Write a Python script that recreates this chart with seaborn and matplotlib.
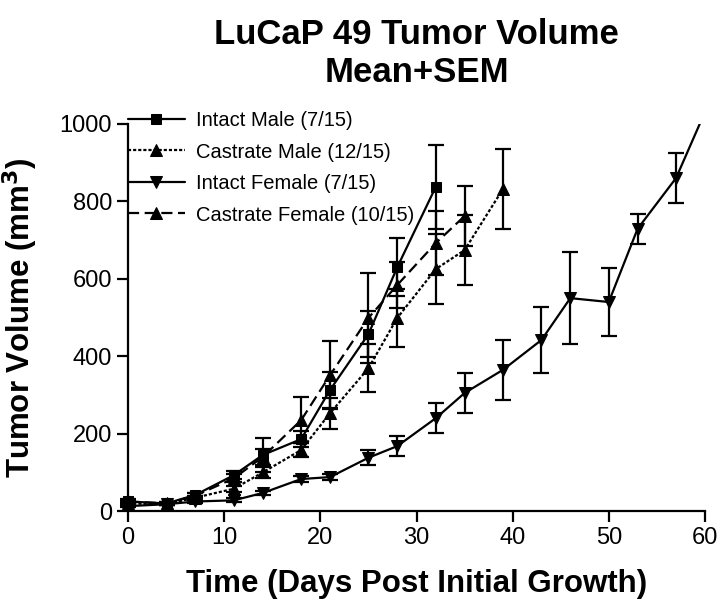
import matplotlib
matplotlib.use("Agg")
import matplotlib.pyplot as plt
import numpy as np
import pandas as pd
import seaborn as sns

# values (days, mean volume, SEM)
im_days = [0, 4, 7, 11, 14, 18, 21, 25, 28, 32]
im_mean = [25, 20, 42, 93, 145, 186, 313, 457, 630, 837]
im_sem = [6, 4, 6, 10, 45, 20, 46, 60, 75, 109]

cm_days = [0, 4, 7, 11, 14, 18, 21, 25, 28, 32, 35, 39]
cm_mean = [20, 18, 35, 58, 100, 158, 253, 369, 499, 625, 674, 832]
cm_sem = [4, 3, 5, 8, 15, 18, 40, 62, 75, 90, 90, 103]

# last point runs off the top of the plot (no SEM shown)
if_days = [0, 4, 7, 11, 14, 18, 21, 25, 28, 32, 35, 39, 43, 46, 50, 53, 57, 60]
if_mean = [13, 18, 25, 28, 47, 83, 88, 138, 168, 240, 305, 365, 442, 550, 540, 729, 860, 1030]
if_sem = [3, 3, 4, 5, 6, 8, 8, 20, 25, 38, 52, 78, 86, 118, 89, 38, 65]

cf_days = [0, 4, 7, 11, 14, 18, 21, 25, 28, 32, 35]
cf_mean = [25, 20, 40, 85, 140, 235, 351, 499, 584, 692, 762]
cf_sem = [5, 4, 6, 10, 20, 60, 88, 116, 60, 83, 78]

labels = ["Intact Male (7/15)", "Castrate Male (12/15)",
          "Intact Female (7/15)", "Castrate Female (10/15)"]

sns.set_theme(style="ticks", rc={"text.color": "black", "axes.labelcolor": "black",
                                 "xtick.color": "black", "ytick.color": "black",
                                 "axes.edgecolor": "black"})
plt.rcParams["font.family"] = ["Liberation Sans", "DejaVu Sans"]

fig = plt.figure(figsize=(7.2, 6.1), dpi=100)
ax = fig.add_axes([0.178, 0.162, 0.801, 0.635])

series = [
    (im_days, im_mean, im_sem, "s", "-", 7),
    (cm_days, cm_mean, cm_sem, "^", (0, (1.4, 0.9)), 8),
    (if_days, if_mean, if_sem, "v", "-", 8),
    (cf_days, cf_mean, cf_sem, "^", (0, (5, 2.5)), 8),
]

handles = []
for (d, m, s, mk, ls, ms), lab in zip(series, labels):
    df = pd.DataFrame({"day": d, "vol": m})
    n_before = len(ax.lines)
    sns.lineplot(data=df, x="day", y="vol", ax=ax, color="black", marker=mk,
                 markersize=ms, markeredgecolor="black", linewidth=1.6,
                 linestyle=ls, label=lab, legend=False)
    line = ax.lines[n_before]
    if mk != "v":
        line.set_clip_on(False)
    handles.append(line)
    k = len(s)
    ax.errorbar(d[:k], m[:k], yerr=s, fmt="none", ecolor="black", elinewidth=1.6,
                capsize=6, capthick=1.6, clip_on=False)

ax.set_xlim(0, 60)
ax.set_ylim(0, 1000)
ax.set_xticks(np.arange(0, 61, 10))
ax.set_yticks(np.arange(0, 1001, 200))
sns.despine(ax=ax)
for sp in ["left", "bottom"]:
    ax.spines[sp].set_linewidth(1.6)
ax.tick_params(direction="out", length=8, width=1.6, labelsize=17)

ax.set_xlabel("Time (Days Post Initial Growth)", fontsize=22.5,
              fontweight="bold", labelpad=14)
ax.set_ylabel("Tumor Volume (mm$^\\mathbf{3}$)", fontsize=22.5,
              fontweight="bold", labelpad=14)
ax.set_title("LuCaP 49 Tumor Volume\nMean+SEM", fontsize=25,
             fontweight="bold", pad=30, linespacing=1.2)

ax.legend(handles, labels, loc="upper left", bbox_to_anchor=(0, 1.033),
          frameon=False, fontsize=14.5, handlelength=2.8, handletextpad=0.55,
          labelspacing=0.62, borderpad=0, borderaxespad=0)

fig.savefig("out.png", dpi=100)
